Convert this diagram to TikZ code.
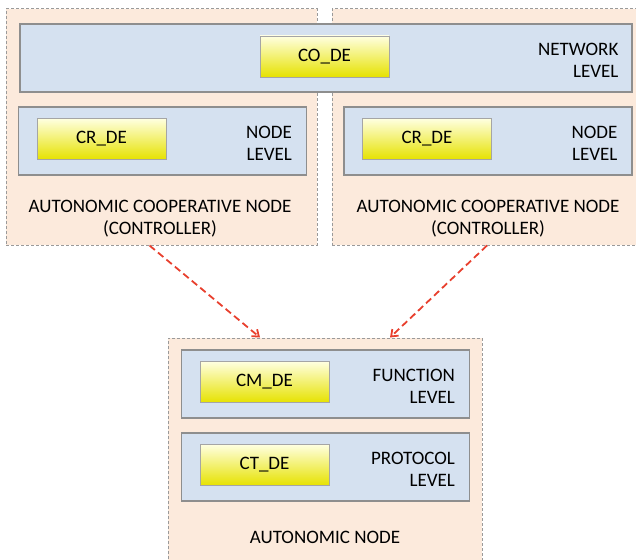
\documentclass[tikz,border=0pt]{standalone}
\usepackage{fontspec}
\setmainfont{Carlito}
\usetikzlibrary{arrows.meta, calc}
\definecolor{Peach}{HTML}{FCEADC}
\definecolor{LBlue}{HTML}{D5E1F0}
\definecolor{Frame}{HTML}{8E8E8E}
\definecolor{Dash}{HTML}{9A9A9A}
\definecolor{Yel}{HTML}{E6E200}
\definecolor{LYel}{HTML}{FFFFE0}
\definecolor{Red}{HTML}{E8402E}
\tikzset{
    outer/.style={draw=Dash, line width=1pt, dash pattern=on 3pt off 2pt, fill=Peach, inner sep=0pt},
    level/.style={draw=Frame, line width=1.2pt, fill=LBlue, minimum width=288pt, minimum height=68pt, inner sep=0pt},
    de/.style={draw=Frame!80, line width=0.6pt, top color=LYel, bottom color=Yel, minimum width=129pt, minimum height=41pt, inner sep=0pt},
    lvltext/.style={align=right, anchor=east, inner sep=0pt},
    title/.style={align=center, inner sep=0pt},
    link/.style={Red, line width=1.8pt, dash pattern=on 7pt off 4pt, -{Straight Barb[length=6pt, width=9pt]}}
}
\NewDocumentCommand{\DrawLevel}{O{0} O{0} O{lvl} O{CR\_DE} O{NODE\\LEVEL}}{
    \begin{scope}[shift={(#1,#2)}]
        \node[level] (#3) at (0,0) {};
        \node[de] (#3-de) at (-61,-2) {#4};
        \node[lvltext] (#3-txt) at ($(#3.east)+(-15,2)$) {#5};
    \end{scope}
}

\begin{document}
\begin{tikzpicture}[x=1pt, y=-1pt, font=\fontsize{19}{22}\selectfont]

    \useasboundingbox (0,0) rectangle (636,559);

    % controllers
    \node[outer, minimum width=311pt, minimum height=236pt] (lctrl) at (161.5,127) {};
    \node[outer, minimum width=310pt, minimum height=236pt] (rctrl) at (487,127) {};

    \node[level, minimum width=612pt] (net) at (326,58) {};
    \node[de] (net-de) at (324.5,56.5) {CO\_DE};
    \node[lvltext] (net-txt) at ($(net.east)+(-14,2)$) {NETWORK\\LEVEL};

    \DrawLevel[162.5][141][lnode][CR\_DE][NODE\\LEVEL]
    \DrawLevel[488][141][rnode][CR\_DE][NODE\\LEVEL]

    \node[title] (lctrl-txt) at (160,219) {AUTONOMIC COOPERATIVE NODE\\(CONTROLLER)};
    \node[title] (rctrl-txt) at (488,219) {AUTONOMIC COOPERATIVE NODE\\(CONTROLLER)};

    % autonomic node
    \node[outer, minimum width=314pt, minimum height=224pt] (anode) at (325,450) {};
    \DrawLevel[325.5][384][func][CM\_DE][FUNCTION\\LEVEL]
    \DrawLevel[325.5][467][prot][CT\_DE][PROTOCOL\\LEVEL]
    \node[title] (anode-txt) at (325,537) {AUTONOMIC NODE};

    \draw[link] ([xshift=-12pt]lctrl.south) -- ([xshift=-65pt]anode.north);
    \draw[link] (rctrl.south) -- ([xshift=65pt]anode.north);
\end{tikzpicture}
\end{document}
